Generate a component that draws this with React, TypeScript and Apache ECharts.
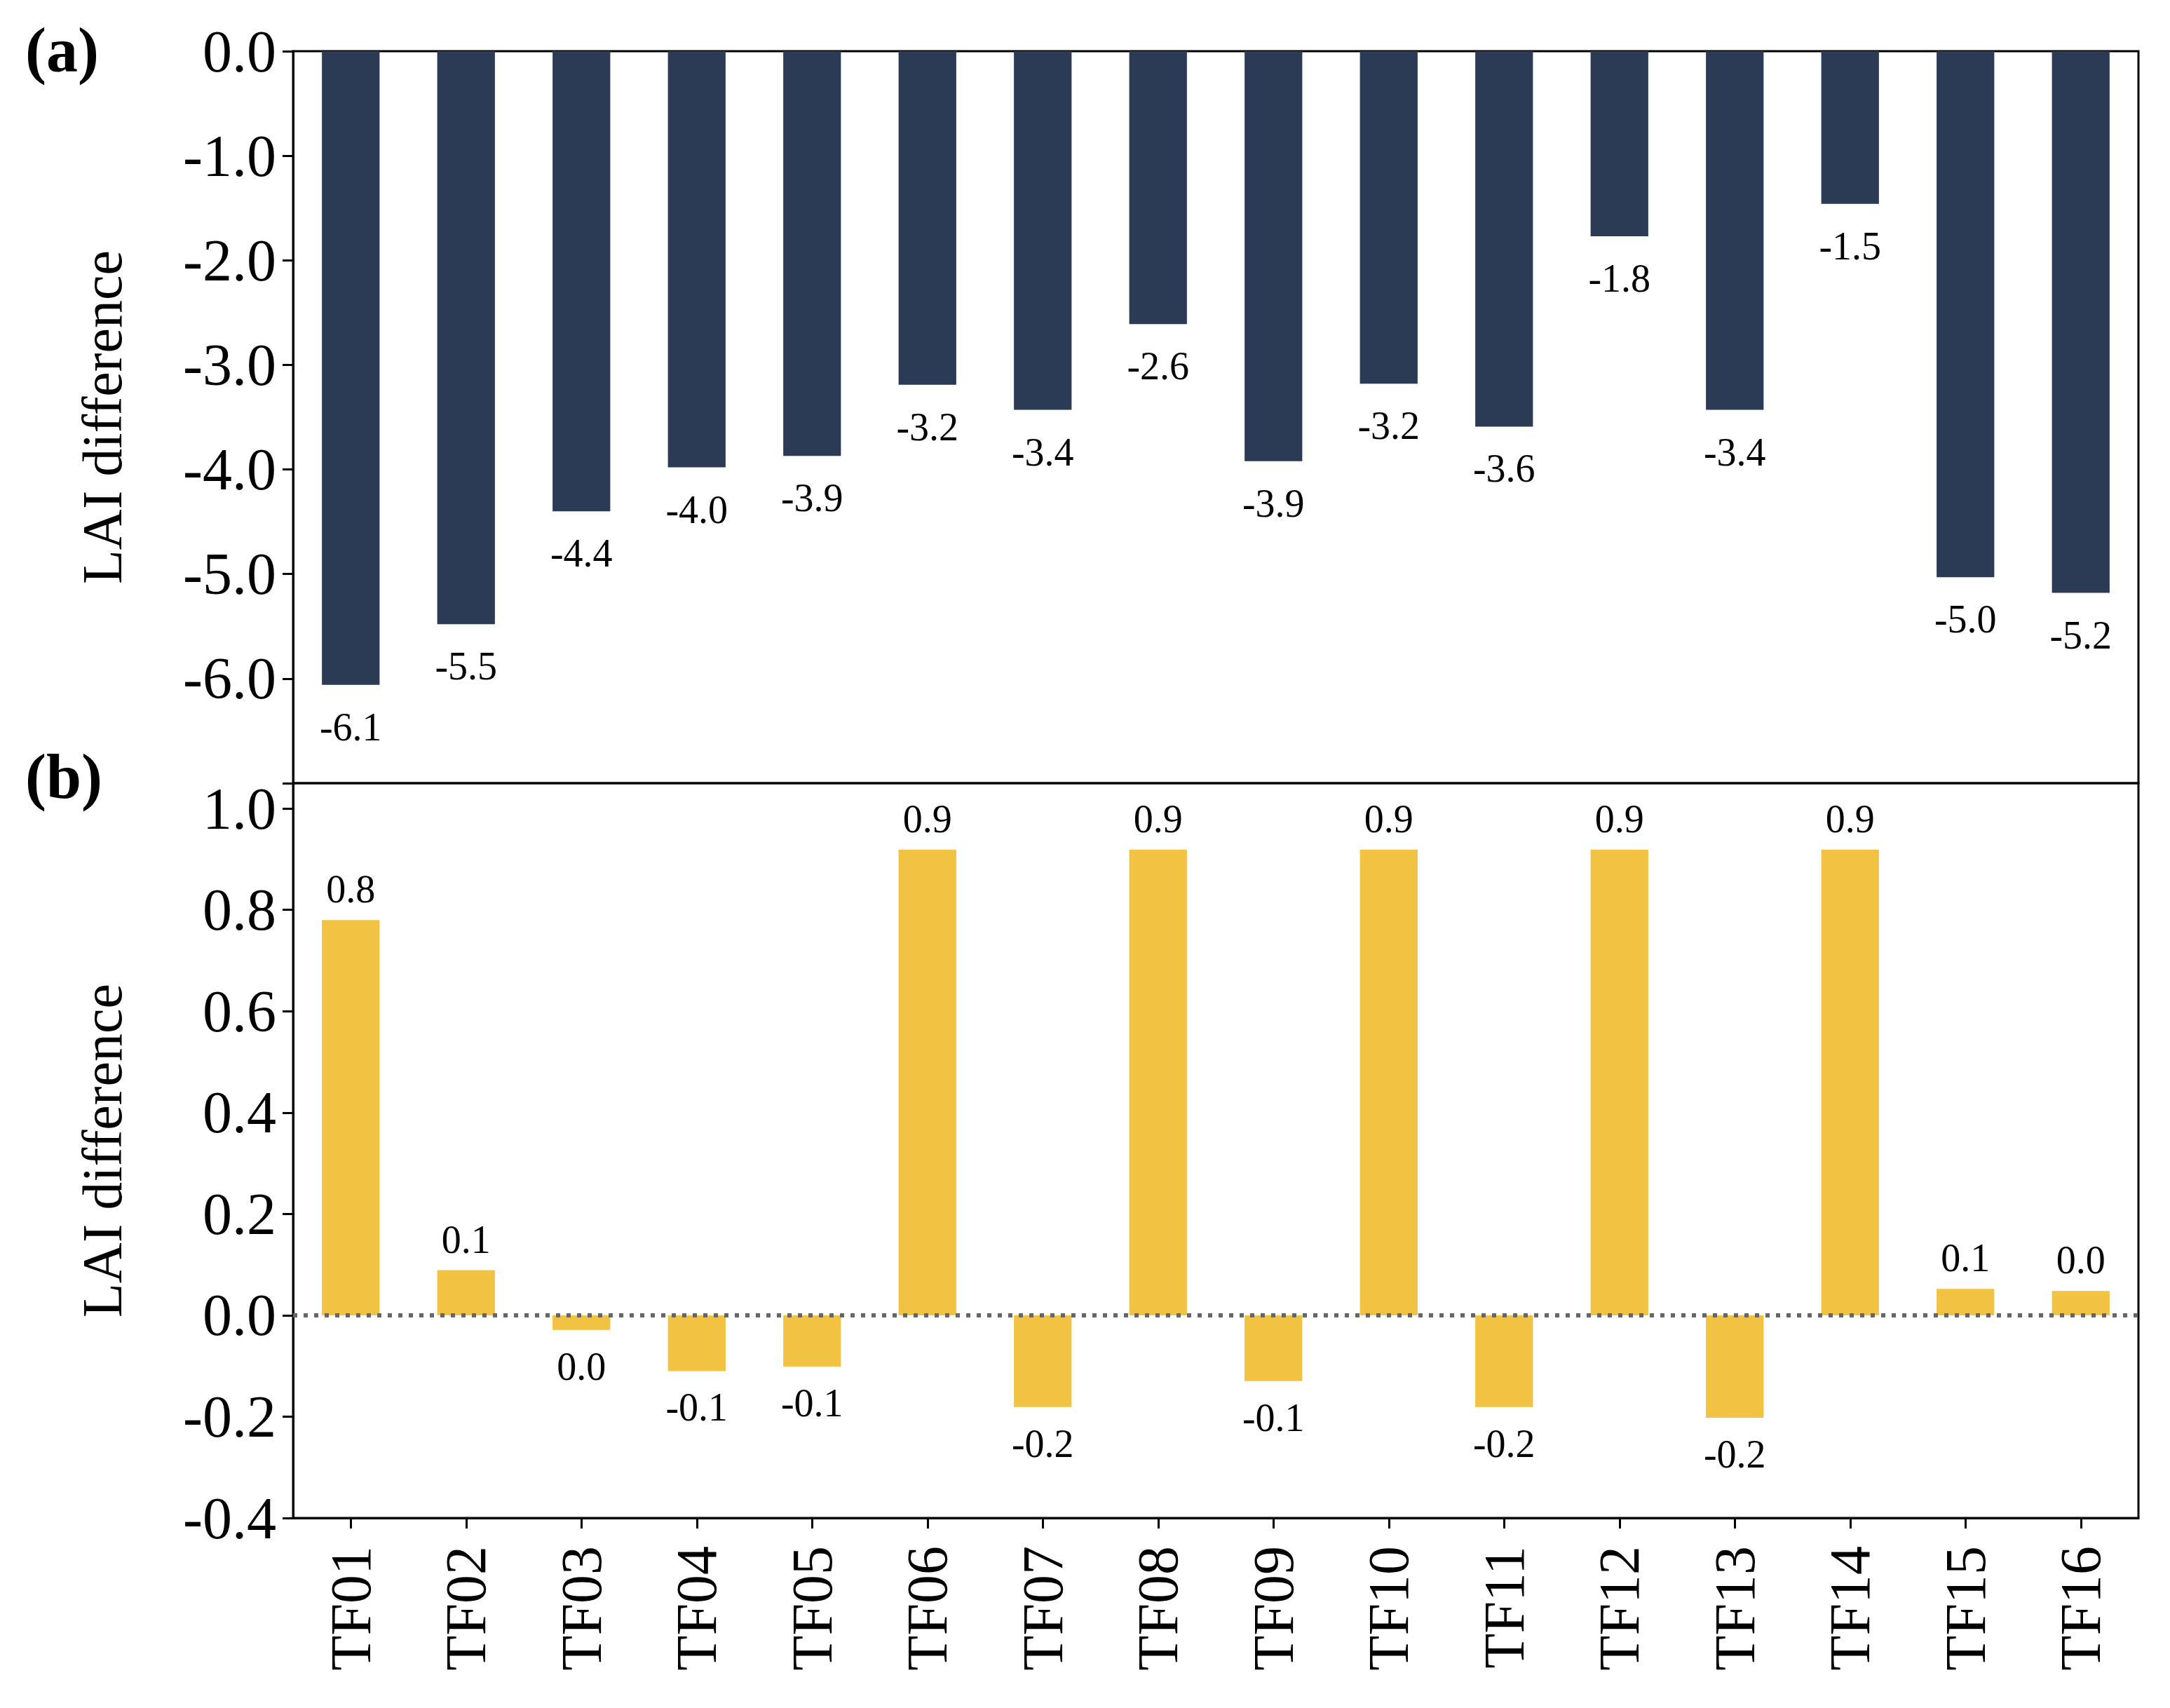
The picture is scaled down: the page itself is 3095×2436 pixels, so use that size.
import { useEffect, useRef } from 'react';
import * as echarts from 'echarts';

const categories = [
  'TF01', 'TF02', 'TF03', 'TF04', 'TF05', 'TF06', 'TF07', 'TF08',
  'TF09', 'TF10', 'TF11', 'TF12', 'TF13', 'TF14', 'TF15', 'TF16',
];

// (a) LAI difference
const panelAValues = [
  -6.06, -5.48, -4.4, -3.98, -3.87, -3.19, -3.43, -2.61,
  -3.92, -3.18, -3.59, -1.77, -3.43, -1.46, -5.03, -5.18,
];

// (b) LAI difference
const panelBValues = [
  0.78, 0.089, -0.029, -0.11, -0.101, 0.919, -0.181, 0.919,
  -0.13, 0.919, -0.181, 0.919, -0.202, 0.919, 0.052, 0.048,
];

const panelARange = { min: -7, max: 0, interval: 1 };
const panelBRange = { min: -0.4, max: 1.05, interval: 0.2 };

const FONT = "'Liberation Serif', 'Times New Roman', serif";

const fmt = (v: number) => {
  const s = (Math.round(v * 10) / 10).toFixed(1);
  return s === '-0.0' ? '0.0' : s;
};

export default function App() {
  const chartRef = useRef<HTMLDivElement>(null);

  useEffect(() => {
    if (!chartRef.current) return;
    const chart = echarts.init(chartRef.current, null, { renderer: 'svg' });

    const gridLeft = 418;
    const gridWidth = 2632;

    // tick label: hide ends that are not on the interval
    const tickLabel = (step: number) => (v: number) => {
      const k = v / step;
      if (Math.abs(k - Math.round(k)) > 1e-6) return '';
      return v.toFixed(1);
    };

    const yAxisCommon = {
      type: 'value',
      name: 'LAI difference',
      nameLocation: 'middle',
      nameRotate: 90,
      nameGap: 232,
      nameTextStyle: { fontFamily: FONT, fontSize: 80, color: '#000' },
      splitLine: { show: false },
      axisLine: { show: true, lineStyle: { color: '#000', width: 3 } },
      axisTick: { show: true, inside: false, length: 15, lineStyle: { color: '#000', width: 3 } },
    };

    const option = {
      animation: false,
      backgroundColor: '#fff',
      grid: [
        { left: gridLeft, top: 73, width: gridWidth, height: 1044, show: true, borderColor: '#000', borderWidth: 3 },
        { left: gridLeft, top: 1117, width: gridWidth, height: 1048, show: true, borderColor: '#000', borderWidth: 3 },
      ],
      xAxis: [
        {
          type: 'category',
          gridIndex: 0,
          data: categories,
          axisLabel: { show: false },
          axisTick: { show: false },
          axisLine: { show: false },
        },
        {
          type: 'category',
          gridIndex: 1,
          data: categories,
          axisLine: { show: true, onZero: false, lineStyle: { color: '#000', width: 3 } },
          axisTick: { show: true, alignWithLabel: true, length: 15, lineStyle: { color: '#000', width: 3 } },
          axisLabel: {
            rotate: 90,
            margin: 40,
            fontFamily: FONT,
            fontSize: 82,
            color: '#000',
            interval: 0,
          },
        },
      ],
      yAxis: [
        {
          ...yAxisCommon,
          gridIndex: 0,
          min: panelARange.min,
          max: panelARange.max,
          interval: panelARange.interval,
          axisLabel: {
            fontFamily: FONT,
            fontSize: 84,
            color: '#000',
            margin: 24,
            formatter: (v: number) => (v <= panelARange.min ? '' : tickLabel(panelARange.interval)(v)),
          },
        },
        {
          ...yAxisCommon,
          gridIndex: 1,
          min: panelBRange.min,
          max: panelBRange.max,
          interval: panelBRange.interval,
          axisLabel: {
            fontFamily: FONT,
            fontSize: 84,
            color: '#000',
            margin: 24,
            formatter: tickLabel(panelBRange.interval),
          },
        },
      ],
      graphic: [
        {
          type: 'text',
          left: 36,
          top: 26,
          style: { text: '(a)', fontFamily: FONT, fontSize: 90, fontWeight: 'bold', fill: '#000' },
        },
        {
          type: 'text',
          left: 36,
          top: 1062,
          style: { text: '(b)', fontFamily: FONT, fontSize: 90, fontWeight: 'bold', fill: '#000' },
        },
      ],
      series: [
        {
          type: 'bar',
          xAxisIndex: 0,
          yAxisIndex: 0,
          data: panelAValues,
          barWidth: '50%',
          itemStyle: { color: '#2b3a55' },
          label: {
            show: true,
            position: 'bottom',
            distance: 32,
            fontFamily: FONT,
            fontSize: 56,
            color: '#000',
            formatter: (p: any) => fmt(p.value),
          },
        },
        {
          type: 'bar',
          xAxisIndex: 1,
          yAxisIndex: 1,
          data: panelBValues.map((v) => ({
            value: v,
            label: { position: v >= 0 ? 'top' : 'bottom', distance: v >= 0 ? 16 : 24 },
          })),
          barWidth: '50%',
          itemStyle: { color: '#f2c342' },
          label: {
            show: true,
            fontFamily: FONT,
            fontSize: 56,
            color: '#000',
            formatter: (p: any) => fmt(p.value),
          },
          markLine: {
            silent: true,
            symbol: 'none',
            label: { show: false },
            lineStyle: { color: '#666', type: [6, 9], width: 6 },
            data: [{ yAxis: 0 }],
          },
        },
      ],
    };

    chart.setOption(option);

    return () => {
      chart.dispose();
    };
  }, []);

  return (
    <div
      ref={chartRef}
      style={{ position: 'absolute', left: 0, top: 0, width: '3095px', height: '2436px' }}
    ></div>
  );
}
